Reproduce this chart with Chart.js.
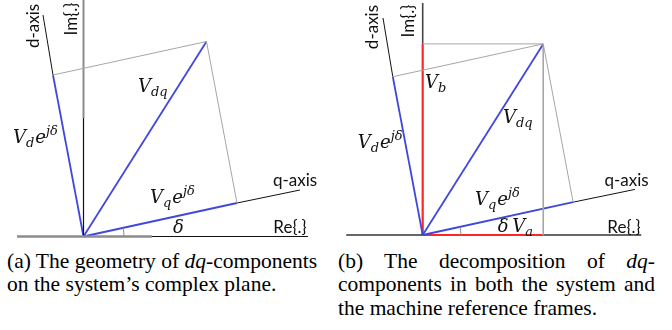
<!DOCTYPE html>
<html>
<head>
<meta charset="utf-8">
<script src="https://cdn.jsdelivr.net/npm/chart.js@4/dist/chart.umd.min.js"></script>
<style>
  html, body { margin: 0; padding: 0; background: #fff; }
  #wrap { position: relative; width: 672px; height: 330px; overflow: hidden; background: #fff; }
  #wrap canvas { position: absolute; top: 0; }
  #ca { left: 0; }
  #cb { left: 336px; }
  .cap { position: absolute; top: 250px; font-family: "Liberation Serif", "Times New Roman", serif;
         font-size: 21.5px; line-height: 23.3px; color: #000; }
  .cap i { font-style: italic; }
  #capA { left: 7px; width: 330px; }
  #capB { left: 338px; width: 317px; }
  .jl { text-align: justify; text-align-last: justify; }
</style>
</head>
<body>
<div id="wrap">
  <canvas id="ca" width="336" height="245"></canvas>
  <canvas id="cb" width="336" height="245"></canvas>
  <div class="cap" id="capA">
    <div>(a) The geometry of <i>dq</i>-components</div>
    <div>on the system’s complex plane.</div>
  </div>
  <div class="cap" id="capB">
    <div class="jl">(b) The decomposition of <i>dq</i>-</div>
    <div class="jl">components in both the system and</div>
    <div>the machine reference frames.</div>
  </div>
</div>
<script>
// Rotated dq-components expressed in the system frame (Re, Im); origin at 0.
const components = ['Vd e^jδ', 'Vq e^jδ'];
const reParts = [-30.5, 153.5];
const imParts = [161.5, 33.5];

// Far ends of the machine d- and q-axes.
const machineAxes = ['d-axis', 'q-axis'];
const axisRe = [-40.5, 216.5];
const axisIm = [221.5, 46.5];

// Extent of the system axes Re{.} (left, right) and Im{.} (top).
const reAxisA = [-66.5, 224.5];
const reAxisB = [-78, 223];
const imAxisTop = [236.5, 236.7];

// Radius of the δ angle marker.
const deltaArc = [40.5, 39];

const BLUE = '#4048dc';
const RED = '#ff2626';
const THIN = '#a6a6a6';
const AXIS = '#111';
const MATH_FONT = '"DejaVu Serif", serif';
const TEXT_FONT = 'Lato, "Open Sans", sans-serif';

const vd = [reParts[0], imParts[0]];
const vq = [reParts[1], imParts[1]];
const vdq = [reParts[0] + reParts[1], imParts[0] + imParts[1]];
const dEnd = [axisRe[0], axisIm[0]];
const qEnd = [axisRe[1], axisIm[1]];
const O = [0, 0];

function seg(p, q, color, width) {
  return {
    data: [{ x: p[0], y: p[1] }, { x: q[0], y: q[1] }],
    showLine: true, borderColor: color, borderWidth: width,
    pointRadius: 0, pointHoverRadius: 0, fill: false, borderCapStyle: 'butt'
  };
}

// Draws the δ marker and all labels on top of the line work.
const diagramLabels = {
  id: 'diagramLabels',
  afterDatasetsDraw(chart, args, opts) {
    const { ctx } = chart;
    const sx = chart.scales.x, sy = chart.scales.y;
    const px = v => sx.getPixelForValue(v);
    const py = v => sy.getPixelForValue(v);
    ctx.save();

    // angle marker between Re{.} and the q-axis
    const ox = px(0), oy = py(0);
    const r = px(opts.arcRadius) - ox;
    const ang = Math.atan2(imParts[1], reParts[1]);
    ctx.beginPath();
    ctx.arc(ox, oy, r, -ang, 0);
    ctx.strokeStyle = '#8a8a8a';
    ctx.lineWidth = 1;
    ctx.stroke();

    ctx.fillStyle = '#111';
    opts.items.forEach(it => {
      if (it.kind === 'text') {
        ctx.save();
        ctx.translate(px(it.x), py(it.y));
        if (it.rot) ctx.rotate(it.rot * Math.PI / 180);
        ctx.font = '17px ' + TEXT_FONT;
        ctx.textAlign = 'center';
        ctx.textBaseline = 'middle';
        ctx.fillText(it.text, 0, 0);
        ctx.restore();
      } else {
        let x = px(it.x);
        const base = py(it.y);
        ctx.textAlign = 'left';
        ctx.textBaseline = 'alphabetic';
        it.runs.forEach(([t, k]) => {
          let dy = 0;
          if (k === 'n') ctx.font = 'italic 18px ' + MATH_FONT;
          else { ctx.font = 'italic 13px ' + MATH_FONT; dy = k === 'sub' ? 4 : -8; }
          ctx.fillText(t, x, base + dy);
          x += ctx.measureText(t).width + (k === 'n' ? 0 : 1);
        });
      }
    });
    ctx.restore();
  }
};

function makePanel(id, cfg) {
  const W = 336, H = 245;
  const s = cfg.scale;
  new Chart(document.getElementById(id), {
    type: 'scatter',
    data: { datasets: cfg.datasets },
    options: {
      responsive: false, animation: false, devicePixelRatio: 1,
      layout: { padding: 0 },
      events: [],
      scales: {
        x: { type: 'linear', display: false, min: -cfg.origin[0] / s, max: (W - cfg.origin[0]) / s },
        y: { type: 'linear', display: false, min: -(H - cfg.origin[1]) / s, max: cfg.origin[1] / s }
      },
      plugins: {
        legend: { display: false }, tooltip: { enabled: false },
        diagramLabels: { items: cfg.labels, arcRadius: cfg.arcRadius }
      }
    },
    plugins: [diagramLabels]
  });
}

const Vde = [['V', 'n'], ['d', 'sub'], ['e', 'n'], ['jδ', 'sup']];
const Vqe = [['V', 'n'], ['q', 'sub'], ['e', 'n'], ['jδ', 'sup']];
const Vdq = [['V', 'n'], ['dq', 'sub']];

// (a) dq-components on the system's complex plane
makePanel('ca', {
  origin: [83.5, 236.5], scale: 1, arcRadius: deltaArc[0],
  datasets: [
    seg(vd, vdq, THIN, 1),
    seg(vdq, vq, THIN, 1),
    seg([reAxisA[0], 0], [68.5, 0], '#8c8c8c', 2.4),
    seg(O, [reAxisA[1], 0], AXIS, 1.2),
    seg([0, 118.5], [0, imAxisTop[0]], '#8c8c8c', 2),
    seg(O, [0, 118.5], AXIS, 1.2),
    seg(vd, dEnd, AXIS, 1),
    seg(vq, qEnd, AXIS, 1),
    seg(O, vd, BLUE, 1.8),
    seg(O, vq, BLUE, 1.8),
    seg(O, vdq, BLUE, 1.8)
  ],
  labels: [
    { kind: 'text', text: 'd-axis', x: -49.5, y: 210.5, rot: -90 },
    { kind: 'text', text: 'Im{.}', x: -11.5, y: 217.5, rot: -90 },
    { kind: 'text', text: 'q-axis', x: 211.5, y: 56 },
    { kind: 'text', text: 'Re{.}', x: 206.5, y: 8.5 },
    { kind: 'math', runs: Vdq, x: 54.5, y: 144.5 },
    { kind: 'math', runs: Vde, x: -70.5, y: 93.5 },
    { kind: 'math', runs: Vqe, x: 66.5, y: 33.5 },
    { kind: 'math', runs: [['δ', 'n']], x: 89.5, y: 3.5 }
  ]
});

// (b) the same vector split into system (Va, Vb) and machine (d, q) parts
makePanel('cb', {
  origin: [86.7, 235], scale: 0.98, arcRadius: deltaArc[1],
  datasets: [
    seg([0, vdq[1]], vdq, THIN, 1),
    seg(vdq, [vdq[0], 0], THIN, 1),
    seg(vd, vdq, THIN, 1),
    seg(vdq, vq, THIN, 1),
    seg([reAxisB[0], 0], O, '#333', 1.3),
    seg([vdq[0], 0], [reAxisB[1], 0], '#333', 1.3),
    seg([0, vdq[1]], [0, imAxisTop[1]], '#444', 1.6),
    seg(vd, dEnd, AXIS, 1),
    seg(vq, qEnd, AXIS, 1),
    seg(O, vd, BLUE, 1.8),
    seg(O, vq, BLUE, 1.8),
    seg(O, vdq, BLUE, 1.8),
    seg(O, [vdq[0], 0], RED, 2.2),
    seg(O, [0, vdq[1]], RED, 2.2)
  ],
  labels: [
    { kind: 'text', text: 'd-axis', x: -50.7, y: 212.2, rot: -90 },
    { kind: 'text', text: 'Im{.}', x: -14, y: 218.4, rot: -90 },
    { kind: 'text', text: 'q-axis', x: 208, y: 56.1 },
    { kind: 'text', text: 'Re{.}', x: 205.4, y: 7.7 },
    { kind: 'math', runs: [['V', 'n'], ['b', 'sub']], x: 2.3, y: 150 },
    { kind: 'math', runs: Vdq, x: 81.9, y: 114.3 },
    { kind: 'math', runs: Vde, x: -66.3, y: 88.8 },
    { kind: 'math', runs: Vqe, x: 53.4, y: 30.6 },
    { kind: 'math', runs: [['δ', 'n']], x: 76.5, y: 3.1 },
    { kind: 'math', runs: [['V', 'n'], ['a', 'sub']], x: 91.5, y: 3.4 }
  ]
});
</script>
</body>
</html>
